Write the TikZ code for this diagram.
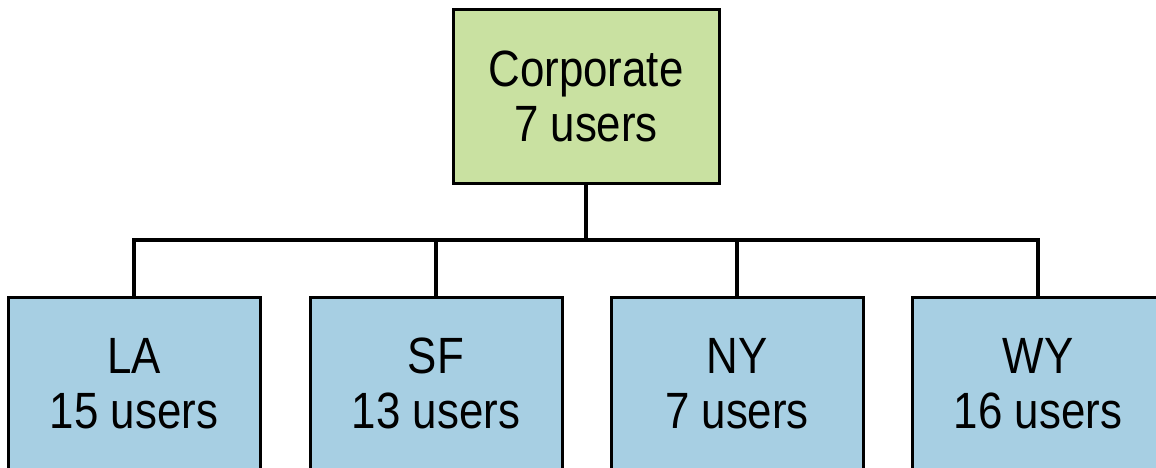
\documentclass[tikz,border=0pt]{standalone}
\usepackage{fontspec}
\setmainfont{Liberation Sans}[FakeStretch=0.86]
\usepackage{tikz}
\usetikzlibrary{positioning}
\definecolor{corpgreen}{RGB}{201,225,161}
\definecolor{siteblue}{RGB}{167,207,227}
\tikzset{
  office/.style={draw=black, line width=1.5pt, align=center, inner sep=0pt,
    font=\fontsize{25.5}{27.5}\selectfont},
  hq/.style={office, fill=corpgreen, minimum width=133pt, minimum height=87pt},
  branch/.style={office, fill=siteblue, minimum width=126pt, minimum height=86.5pt},
  link/.style={line width=2pt}
}
\begin{document}
\begin{tikzpicture}[x=0.5pt,y=-0.5pt]
\useasboundingbox (0,0) rectangle (1156,467);
\fill[white] (0,0) rectangle (1156,467);
% head office
\node[hq] (corp) at (586,96) {Corporate\\7 users};
\coordinate (bar) at (586,240);
% branch offices and their links
\foreach \cx/\code/\site/\users in {134/la/LA/15, 436/sf/SF/13, 737/ny/NY/7, 1038/wy/WY/16} {
  \node[branch] (\code) at (\cx,383.5) {\site\\\users\ users};
  \draw[link] (corp.south) -- (corp.south |- bar) -| (\code.north);
}
\end{tikzpicture}
\end{document}
